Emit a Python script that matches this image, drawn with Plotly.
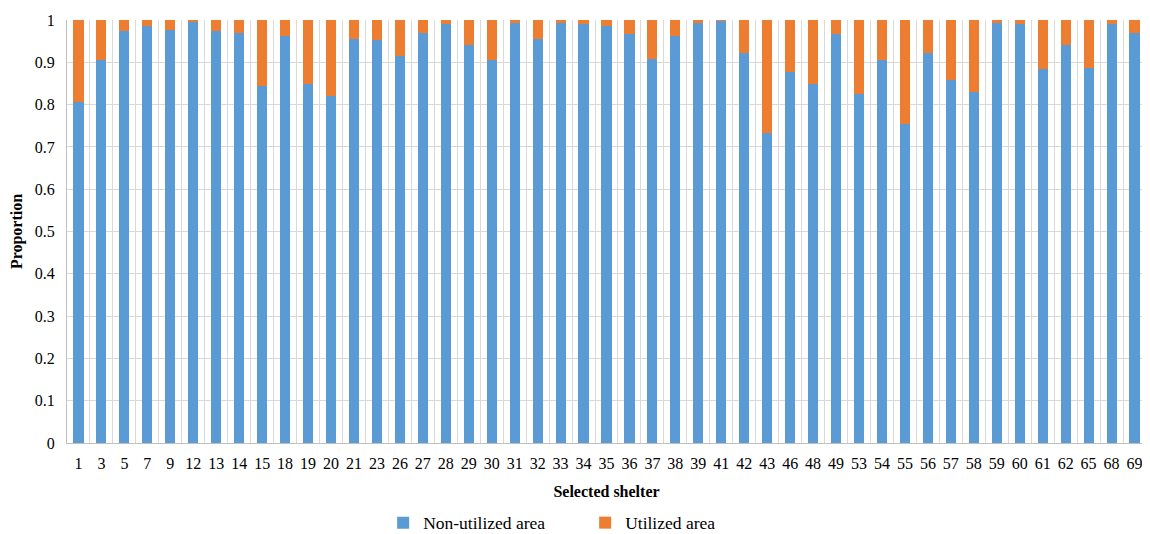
import plotly.graph_objects as go

shelters = ["1", "3", "5", "7", "9", "12", "13", "14", "15", "18", "19", "20", "21", "23", "26",
            "27", "28", "29", "30", "31", "32", "33", "34", "35", "36", "37", "38", "39", "41", "42",
            "43", "46", "48", "49", "53", "54", "55", "56", "57", "58", "59", "60", "61", "62", "65",
            "68", "69"]
non_utilized = [0.806, 0.905, 0.973, 0.985, 0.976, 0.997, 0.973, 0.970, 0.844, 0.962, 0.848, 0.821,
                0.955, 0.952, 0.916, 0.970, 0.991, 0.940, 0.905, 0.994, 0.955, 0.993, 0.991, 0.987,
                0.967, 0.907, 0.963, 0.993, 0.998, 0.922, 0.732, 0.877, 0.848, 0.967, 0.826, 0.905,
                0.753, 0.922, 0.859, 0.829, 0.993, 0.991, 0.883, 0.940, 0.887, 0.991, 0.970]
utilized = [round(1 - v, 3) for v in non_utilized]

y_ticks = [0, 0.1, 0.2, 0.3, 0.4, 0.5, 0.6, 0.7, 0.8, 0.9, 1]
y_tick_text = ["0", "0.1", "0.2", "0.3", "0.4", "0.5", "0.6", "0.7", "0.8", "0.9", "1"]

font_family = "Liberation Serif"

fig = go.Figure()
fig.add_trace(go.Bar(x=shelters, y=non_utilized, name="Non-utilized area",
                     marker=dict(color="#5B9BD5", line=dict(width=0))))
fig.add_trace(go.Bar(x=shelters, y=utilized, name="Utilized area",
                     marker=dict(color="#ED7D31", line=dict(width=0))))

fig.update_layout(
    barmode="stack",
    bargap=0.56,
    width=1142, height=526,
    margin=dict(l=59, r=4, t=12, b=91, autoexpand=False),
    paper_bgcolor="white", plot_bgcolor="white",
    font=dict(family=font_family, size=16, color="black"),
    legend=dict(orientation="h", x=0.293, xanchor="left", y=-0.146, yanchor="top",
                font=dict(family=font_family, size=17.5), traceorder="normal",
                itemwidth=30, entrywidthmode="pixels", entrywidth=157),
    showlegend=True,
)
fig.update_xaxes(
    type="category", tickson="boundaries", tickangle=0,
    showgrid=True, gridcolor="#d9d9d9", gridwidth=1,
    showline=True, linecolor="#bfbfbf", linewidth=1,
    ticks="", ticklabelstandoff=6,
    tickfont=dict(family=font_family, size=16), automargin=False,
    title=dict(text="<b>Selected shelter</b>", font=dict(family=font_family, size=16), standoff=14),
)
fig.update_yaxes(
    range=[0, 1], tickvals=y_ticks, ticktext=y_tick_text,
    showgrid=True, gridcolor="#d9d9d9", gridwidth=1,
    showline=True, linecolor="#bfbfbf", linewidth=1,
    ticks="", ticklabelstandoff=8,
    tickfont=dict(family=font_family, size=16), zeroline=False, automargin=False,
    title=dict(text="<b>Proportion</b>", font=dict(family=font_family, size=16), standoff=8),
)

fig.write_html("out.html")
